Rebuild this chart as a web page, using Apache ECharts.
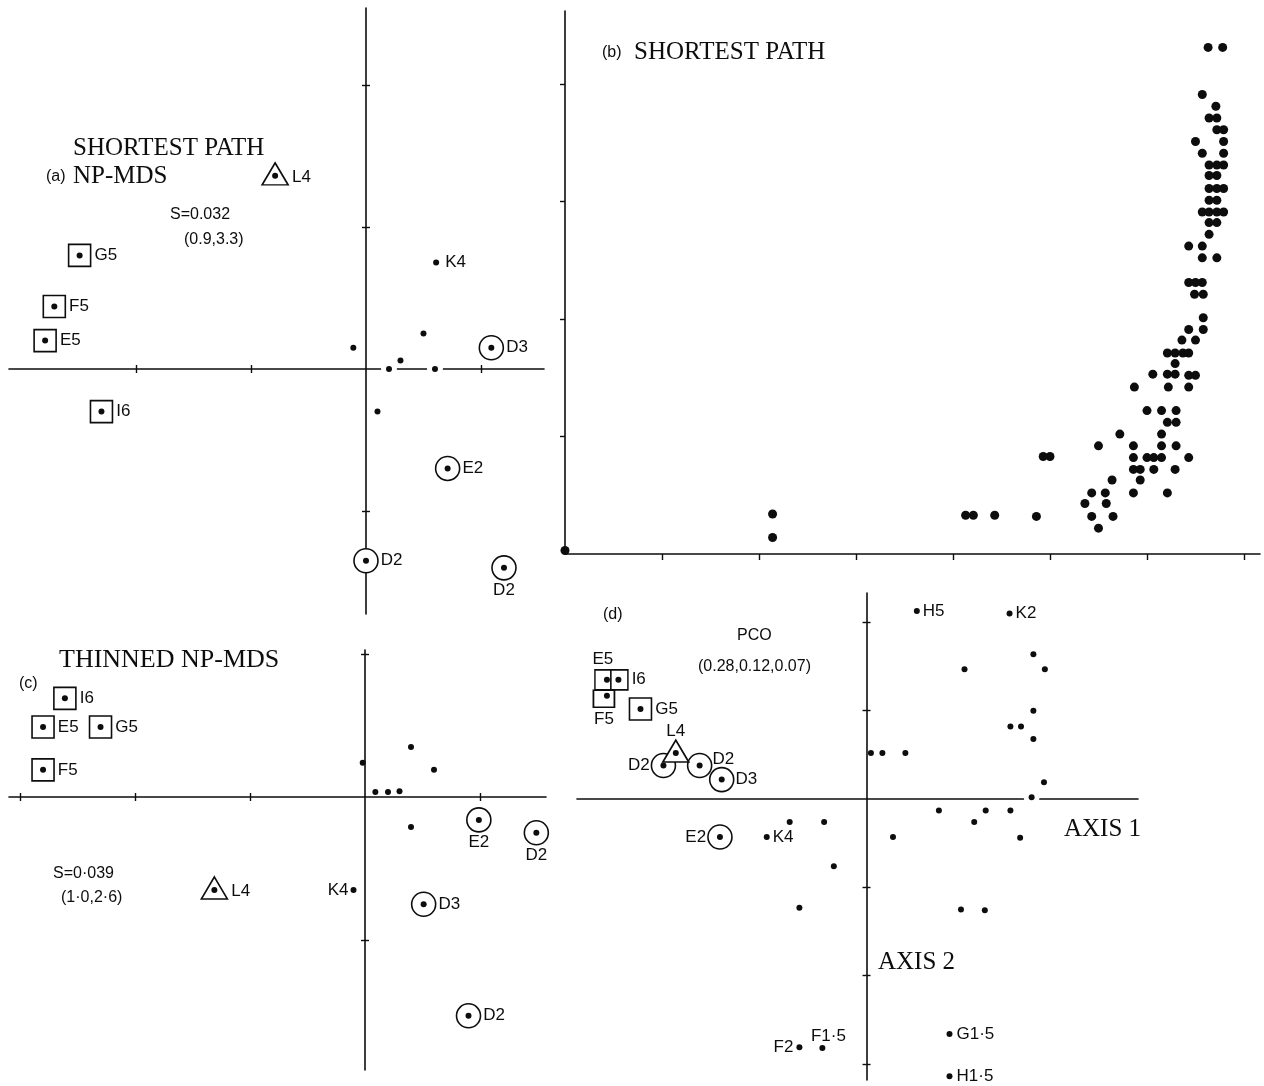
<!DOCTYPE html>
<html>
<head>
<meta charset="utf-8">
<title>Shortest-path NP-MDS, thinned NP-MDS and PCO ordinations</title>
<script src="https://cdn.jsdelivr.net/npm/echarts@6/dist/echarts.min.js"></script>
<style>
  html, body { margin: 0; padding: 0; background: #fff; }
  #chart { width: 1264px; height: 1086px; }
</style>
</head>
<body>
<div id="chart"></div>
<script>
// ---------- (a) shortest path NP-MDS ----------
const aDots      = [[-0.11, 0.15], [0.50, 0.25], [0.30, 0.06], [0.20, 0.00], [0.60, 0.00], [0.10, -0.30]];
const aNamedDots = [[0.61, 0.75, 'K4']];
const aSquares   = [[-2.49, 0.80, 'G5'], [-2.71, 0.44, 'F5'], [-2.79, 0.20, 'E5'], [-2.30, -0.30, 'I6']];
const aCircles   = [[1.09, 0.15, 'D3'], [0.71, -0.70, 'E2'], [0.00, -1.35, 'D2'], [1.20, -1.40, 'D2']];
const aTriangles = [[-0.79, 1.36, 'L4']];
const aTicksX    = [-2, -1, 1];
const aTicksY    = [-1, 1, 2];

// ---------- (b) shortest path distances ----------
const bPoints = [
  [6.63, 4.31], [6.78, 4.31],
  [6.57, 3.91], [6.71, 3.81],
  [6.64, 3.71], [6.72, 3.71],
  [6.72, 3.61], [6.79, 3.61],
  [6.50, 3.51], [6.79, 3.51],
  [6.57, 3.41], [6.79, 3.41],
  [6.64, 3.31], [6.72, 3.31], [6.79, 3.31],
  [6.64, 3.22], [6.72, 3.22],
  [6.64, 3.11], [6.72, 3.11], [6.79, 3.11],
  [6.64, 3.01], [6.72, 3.01],
  [6.57, 2.91], [6.64, 2.91], [6.72, 2.91], [6.79, 2.91],
  [6.64, 2.82], [6.72, 2.82],
  [6.64, 2.72],
  [6.43, 2.62], [6.57, 2.62],
  [6.57, 2.52], [6.72, 2.52],
  [6.43, 2.31], [6.50, 2.31], [6.57, 2.31],
  [6.49, 2.21], [6.58, 2.21],
  [6.58, 2.01],
  [6.58, 1.91], [6.43, 1.91],
  [6.36, 1.82], [6.50, 1.82],
  [6.21, 1.71], [6.29, 1.71], [6.37, 1.71], [6.43, 1.71],
  [6.29, 1.62],
  [6.06, 1.53], [6.21, 1.53], [6.29, 1.53], [6.43, 1.52], [6.50, 1.52],
  [5.87, 1.42], [6.22, 1.42], [6.43, 1.42],
  [6.00, 1.22], [6.15, 1.22], [6.30, 1.22],
  [6.21, 1.12], [6.30, 1.12],
  [5.72, 1.02], [6.15, 1.02],
  [5.50, 0.92], [5.86, 0.92], [6.15, 0.92], [6.30, 0.92],
  [4.93, 0.83], [5.00, 0.83],
  [5.86, 0.82], [6.00, 0.82], [6.07, 0.82], [6.15, 0.82], [6.43, 0.82],
  [5.86, 0.72], [5.93, 0.72], [6.07, 0.72], [6.29, 0.72],
  [5.64, 0.63], [5.93, 0.63],
  [5.43, 0.52], [5.57, 0.52], [5.86, 0.52], [6.21, 0.52],
  [5.36, 0.43], [5.58, 0.43],
  [2.14, 0.34],
  [4.13, 0.33], [4.21, 0.33], [4.43, 0.33],
  [4.86, 0.32], [5.43, 0.32], [5.65, 0.32],
  [5.50, 0.22],
  [2.14, 0.14],
  [0.00, 0.03]
];
const bTicksX = [1, 2, 3, 4, 5, 6, 7];
const bTicksY = [1, 2, 3, 4];

// ---------- (c) thinned NP-MDS ----------
const cDots      = [[-0.02, 0.24], [0.40, 0.35], [0.60, 0.19], [0.09, 0.035], [0.20, 0.035], [0.30, 0.04], [0.40, -0.21]];
const cNamedDots = [[-0.10, -0.65, 'K4']];
const cSquares   = [[-2.61, 0.69, 'I6'], [-2.80, 0.49, 'E5'], [-2.30, 0.49, 'G5'], [-2.80, 0.19, 'F5']];
const cCircles   = [[0.99, -0.16, 'E2'], [1.49, -0.25, 'D2'], [0.51, -0.75, 'D3'], [0.90, -1.53, 'D2']];
const cTriangles = [[-1.31, -0.65, 'L4']];
const cTicksX    = [-3, -2, -1, 1];
const cTicksY    = [-1, 1];

// ---------- (d) PCO ----------
const dDots = [
  [1.89, 1.64], [2.02, 1.47], [1.11, 1.47], [1.89, 1.00], [1.63, 0.82], [1.75, 0.82], [1.89, 0.68],
  [0.05, 0.52], [0.18, 0.52], [0.44, 0.52], [2.01, 0.19], [1.87, 0.02],
  [0.82, -0.13], [1.35, -0.13], [1.63, -0.13], [1.22, -0.26], [0.30, -0.43], [1.74, -0.44],
  [-0.87, -0.26], [-0.48, -0.26], [-0.37, -0.76], [-0.76, -1.23], [1.07, -1.25], [1.34, -1.26]
];
const dNamedDots = [
  [-1.13, -0.43, 'K4'], [0.57, 2.13, 'H5'], [1.62, 2.10, 'K2'],
  [0.94, -2.66, 'G1·5'], [0.94, -3.14, 'H1·5'], [-0.76, -2.81, 'F2'], [-0.50, -2.82, 'F1·5']
];
const dSquares   = [[-2.94, 1.35, 'E5'], [-2.81, 1.35, 'I6'], [-2.94, 1.17, 'F5'], [-2.56, 1.02, 'G5']];
const dCircles   = [[-2.30, 0.38, 'D2'], [-1.89, 0.38, 'D2'], [-1.64, 0.22, 'D3'], [-1.66, -0.43, 'E2']];
const dTriangles = [[-2.16, 0.52, 'L4']];
const dTicksY    = [-3, -2, -1, 1, 2];

// ---------- drawing ----------
const INK = '#0d0d0d';
const SANS = '"Liberation Sans", Arial, Helvetica, sans-serif';
const SERIF = '"Liberation Serif", "Times New Roman", serif';

// label placement per marker (style only)
const aSquareLbl = [{}, {}, {}, {}];
const aCircleLbl = [{ dist: 2 }, { dist: 2 }, { dist: 2 }, { pos: 'bottom', dist: 1 }];
const aTriLbl    = [{ off: [0, 3] }];
const aNamedLbl  = [{ dist: 6 }];

const cSquareLbl = [{}, {}, {}, {}];
const cCircleLbl = [{ pos: 'bottom', dist: 1 }, { pos: 'bottom', dist: 1 }, { dist: 2 }, { dist: 2 }];
const cTriLbl    = [{ off: [0, 3] }];
const cNamedLbl  = [{ pos: 'left', dist: 2 }];

const dSquareLbl = [
  { pos: 'top', dist: 1, size: [16, 20], shift: [-4, 0] },
  { size: [17, 20], shift: [1, 0], dist: 3 },
  { pos: 'bottom', dist: 3, size: [21, 17], shift: [-3, 3] },
  { dist: 3 }
];
const dCircleLbl = [{ pos: 'left', dist: 1 }, { dist: 0, off: [0, -6] }, { dist: 1 }, { pos: 'left', dist: 1 }];
const dTriLbl    = [{ pos: 'top', dist: 0 }];
const dNamedLbl  = [{}, {}, {}, { dist: 4 }, { dist: 4 }, { pos: 'left', dist: 3 }, { pos: 'top', dist: 0, off: [6, 0] }];

const labelText = { show: true, formatter: '{b}', fontFamily: SANS, fontSize: 17, color: INK };

function labelled(rows, styles, baseDist) {
  return rows.map((r, i) => {
    const s = styles[i] || {};
    const item = {
      name: r[2],
      value: [r[0], r[1]],
      label: {
        position: s.pos || 'right',
        distance: s.dist != null ? s.dist : baseDist,
        offset: s.off || [0, 0]
      }
    };
    if (s.size) item.symbolSize = s.size;
    if (s.shift) item.symbolOffset = s.shift;
    return item;
  });
}
const xy = rows => rows.map(r => [r[0], r[1]]);

function base(ax) {
  return {
    type: 'scatter', xAxisIndex: ax[0], yAxisIndex: ax[1],
    clip: false, silent: true, animation: false,
    emphasis: { disabled: true }
  };
}
// white gap where a dot sits on the horizontal axis line
function halo(ax, rows) {
  return Object.assign(base(ax), {
    symbol: 'circle', symbolSize: 16, itemStyle: { color: '#fff', opacity: 1 },
    data: xy(rows.filter(r => Math.abs(r[1]) < 0.03))
  });
}
function outline(ax, rows, styles, symbol, size, shift) {
  return Object.assign(base(ax), {
    symbol, symbolSize: size, symbolOffset: shift || [0, 0],
    itemStyle: { color: '#fff', borderColor: INK, borderWidth: 1.6, opacity: 1 },
    label: labelText,
    data: labelled(rows, styles, 3)
  });
}
function dots(ax, rows, size) {
  return Object.assign(base(ax), {
    symbol: 'circle', symbolSize: size || 6, itemStyle: { color: INK, opacity: 1 },
    data: xy(rows)
  });
}
function namedDots(ax, rows, styles) {
  return Object.assign(base(ax), {
    symbol: 'circle', symbolSize: 6, itemStyle: { color: INK, opacity: 1 },
    label: labelText,
    data: labelled(rows, styles, 3)
  });
}
function panelSeries(ax, p) {
  const all = p.squares.concat(p.circles, p.triangles, p.named);
  return [
    halo(ax, p.dots.concat(all)),
    outline(ax, p.squares, p.squareLbl, 'rect', 22),
    outline(ax, p.circles, p.circleLbl, 'circle', 24),
    outline(ax, p.triangles, p.triLbl, 'triangle', [26, 22], [0, -2]),
    dots(ax, p.dots),
    dots(ax, p.squares.concat(p.circles, p.triangles)),
    namedDots(ax, p.named, p.namedLbl)
  ];
}

// value axis; onZeroTo = index of the crossing axis (null: sit on grid edge)
function axis(grid, min, max, ticks, position, onZeroTo, opts) {
  opts = opts || {};
  const line = { show: opts.line !== false, onZero: onZeroTo != null, lineStyle: { color: INK, width: 1.6 } };
  if (onZeroTo != null) line.onZeroAxisIndex = onZeroTo;
  return {
    type: 'value', gridIndex: grid, min, max, position,
    axisLine: line,
    axisTick: {
      show: ticks.length > 0, customValues: ticks, inside: false,
      length: opts.tickLen || 4, lineStyle: { color: INK, width: 1.4 }
    },
    axisLabel: { show: false },
    splitLine: { show: false },
    splitArea: { show: false }
  };
}

const option = {
  backgroundColor: '#fff',
  animation: false,
  grid: [
    { left: 9,   top: 8,   width: 535, height: 606 },   // (a)
    { left: 565, top: 11,  width: 695, height: 543 },   // (b)
    { left: 9,   top: 650, width: 537, height: 420 },   // (c)
    { left: 577, top: 593, width: 561, height: 487 }    // (d)
  ],
  xAxis: [
    axis(0, -3.104, 1.548, aTicksX, 'bottom', 0),                    // 0
    axis(0, -3.104, 1.548, aTicksX, 'top', 1, { line: false }),      // 1
    axis(1, 0, 7.165, bTicksX, 'bottom', null, { tickLen: 6 }),      // 2
    axis(2, -3.096, 1.574, cTicksX, 'bottom', 3),                    // 3
    axis(2, -3.096, 1.574, cTicksX, 'top', 4, { line: false }),      // 4
    axis(3, -3.279, 3.075, [], 'bottom', 5),                         // 5
    axis(3, -3.279, 3.075, [], 'top', 6, { line: false })            // 6
  ],
  yAxis: [
    axis(0, -1.725, 2.542, aTicksY, 'left', 0),                      // 0
    axis(0, -1.725, 2.542, aTicksY, 'right', 1, { line: false }),    // 1
    axis(1, 0, 4.62, bTicksY, 'left', null, { tickLen: 5 }),         // 2
    axis(2, -1.909, 1.028, cTicksY, 'left', 3),                      // 3
    axis(2, -1.909, 1.028, cTicksY, 'right', 4, { line: false }),    // 4
    axis(3, -3.182, 2.333, dTicksY, 'left', 5),                      // 5
    axis(3, -3.182, 2.333, dTicksY, 'right', 6, { line: false })     // 6
  ],
  series: [].concat(
    panelSeries([0, 0], {
      dots: aDots, named: aNamedDots, squares: aSquares, circles: aCircles, triangles: aTriangles,
      squareLbl: aSquareLbl, circleLbl: aCircleLbl, triLbl: aTriLbl, namedLbl: aNamedLbl
    }),
    [dots([2, 2], bPoints, 9)],
    panelSeries([3, 3], {
      dots: cDots, named: cNamedDots, squares: cSquares, circles: cCircles, triangles: cTriangles,
      squareLbl: cSquareLbl, circleLbl: cCircleLbl, triLbl: cTriLbl, namedLbl: cNamedLbl
    }),
    panelSeries([5, 5], {
      dots: dDots, named: dNamedDots, squares: dSquares, circles: dCircles, triangles: dTriangles,
      squareLbl: dSquareLbl, circleLbl: dCircleLbl, triLbl: dTriLbl, namedLbl: dNamedLbl
    })
  ),
  graphic: [
    ['SHORTEST PATH', 73, 148, 25, SERIF],
    ['(a)', 46, 177, 16, SANS],
    ['NP-MDS', 73, 176, 25, SERIF],
    ['S=0.032', 170, 215, 16, SANS],
    ['(0.9,3.3)', 184, 240, 16, SANS],
    ['(b)', 602, 53, 16, SANS],
    ['SHORTEST PATH', 634, 52, 25, SERIF],
    ['THINNED NP-MDS', 59, 660, 26, SERIF],
    ['(c)', 19, 684, 16, SANS],
    ['S=0·039', 53, 874, 16, SANS],
    ['(1·0,2·6)', 61, 898, 16, SANS],
    ['(d)', 603, 615, 16, SANS],
    ['PCO', 737, 636, 16, SANS],
    ['(0.28,0.12,0.07)', 698, 667, 16, SANS],
    ['AXIS 1', 1064, 829, 25, SERIF],
    ['AXIS 2', 878, 962, 25, SERIF]
  ].map(t => ({
    type: 'text', x: t[1], y: t[2], silent: true, z: 10,
    style: { text: t[0], font: t[3] + 'px ' + t[4], fill: INK, align: 'left', verticalAlign: 'middle' }
  }))
};

const chart = echarts.init(document.getElementById('chart'), null, { renderer: 'canvas' });
chart.setOption(option);
</script>
</body>
</html>
